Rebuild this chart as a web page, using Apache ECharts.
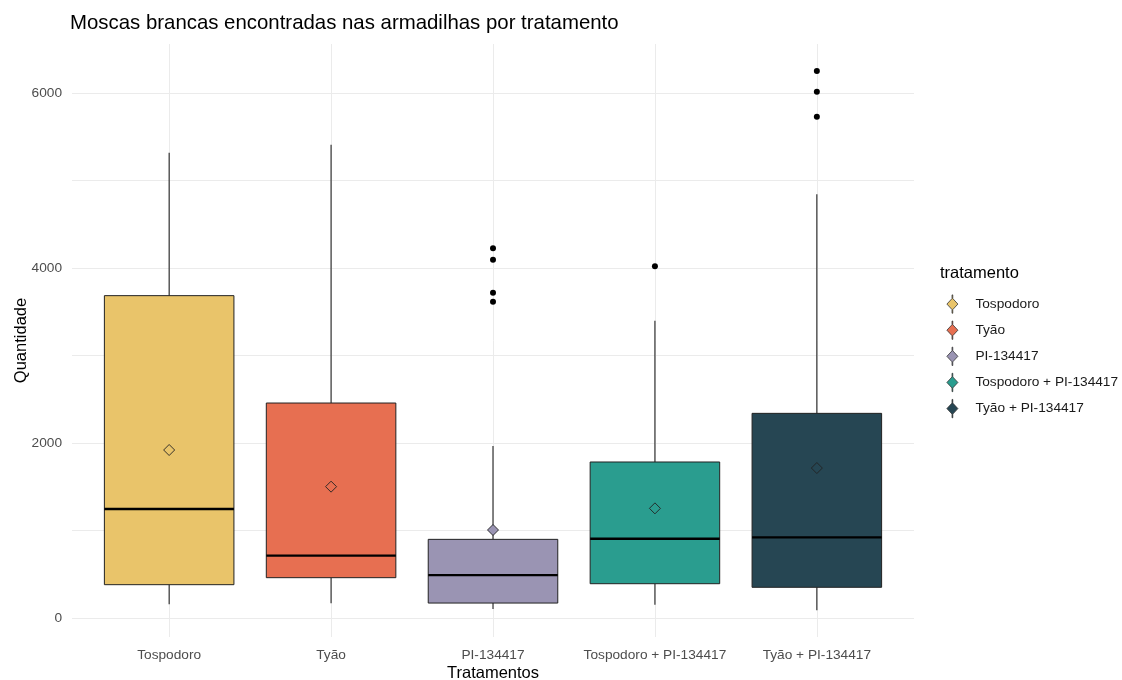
<!DOCTYPE html>
<html>
<head>
<meta charset="utf-8">
<script src="https://cdn.jsdelivr.net/npm/echarts@6/dist/echarts.min.js"></script>
<style>
  html, body { margin: 0; padding: 0; background: #ffffff; }
  #chart { width: 1122px; height: 680px; }
</style>
</head>
<body>
<div id="chart"></div>
<script>
// Treatments and their box-plot summaries (counts of whiteflies per trap)
const categories = ['Tospodoro', 'Tyão', 'PI-134417', 'Tospodoro + PI-134417', 'Tyão + PI-134417'];
const colors = ['#E9C46A', '#E76F51', '#9A94B3', '#2A9D8F', '#264653'];
const whiskerLow = [156, 168, 103, 152, 88];
const q1 = [381, 461, 171, 392, 351];
const median = [1246, 712, 491, 906, 922];
const q3 = [3684, 2457, 899, 1783, 2339];
const whiskerHigh = [5318, 5410, 1966, 3398, 4842];
const means = [1920, 1501, 1006, 1253, 1714];
const outliers = [[], [], [4225, 4095, 3718, 3615], [4019], [6251, 6015, 5729]];
const yLabelValues = [0, 2000, 4000, 6000];
const yGridValues = [0, 1000, 2000, 3000, 4000, 5000, 6000];

const FONT = '"Liberation Sans", Arial, sans-serif';

const boxData = categories.map((c, i) => [i, whiskerLow[i], q1[i], median[i], q3[i], whiskerHigh[i]]);
const outlierData = [];
outliers.forEach((vals, i) => vals.forEach(v => outlierData.push([i, v])));

// Box with single-line whiskers and a heavier median bar
function renderBox(params, api) {
  const x = api.value(0);
  const pLow = api.coord([x, api.value(1)]);
  const pQ1 = api.coord([x, api.value(2)]);
  const pMed = api.coord([x, api.value(3)]);
  const pQ3 = api.coord([x, api.value(4)]);
  const pHigh = api.coord([x, api.value(5)]);
  const half = api.size([0.8, 0])[0] / 2;
  const cx = pQ1[0];
  const fill = colors[params.dataIndex];
  return {
    type: 'group',
    children: [
      { type: 'line', shape: { x1: cx, y1: pQ3[1], x2: cx, y2: pHigh[1] }, style: { stroke: '#222', lineWidth: 1.1 } },
      { type: 'line', shape: { x1: cx, y1: pLow[1], x2: cx, y2: pQ1[1] }, style: { stroke: '#222', lineWidth: 1.1 } },
      { type: 'rect', shape: { x: cx - half, y: pQ3[1], width: 2 * half, height: pQ1[1] - pQ3[1] },
        style: { fill: fill, stroke: '#222', lineWidth: 1 } },
      { type: 'line', shape: { x1: cx - half, y1: pMed[1], x2: cx + half, y2: pMed[1] }, style: { stroke: '#000', lineWidth: 2.3 } }
    ]
  };
}

// Legend glyph: vertical whisker through a diamond
const legendIcon = 'path://M9.6,0 L10.4,0 L10.4,4 L16,10 L10.4,16 L10.4,20 L9.6,20 L9.6,16 L4,10 L9.6,4 Z';

const meanSeries = categories.map((name, i) => ({
  name: name,
  type: 'scatter',
  z: 4,
  symbol: 'diamond',
  symbolSize: [11, 11],
  itemStyle: { color: colors[i], borderColor: '#222', borderWidth: 0.9, opacity: 1 },
  emphasis: { disabled: true },
  data: [[i, means[i]]]
}));

const chart = echarts.init(document.getElementById('chart'), null, { renderer: 'canvas' });
chart.setOption({
  animation: false,
  backgroundColor: '#ffffff',
  textStyle: { fontFamily: FONT },
  title: [
    { text: 'Moscas brancas encontradas nas armadilhas por tratamento', left: 70, top: 13, padding: 0,
      textStyle: { fontFamily: FONT, fontSize: 20.4, fontWeight: 'normal', color: '#000' } },
    { text: 'tratamento', left: 940, top: 264.5, padding: 0,
      textStyle: { fontFamily: FONT, fontSize: 16.5, fontWeight: 'normal', color: '#000' } }
  ],
  legend: {
    orient: 'vertical',
    left: 946.5,
    top: 294.5,
    padding: 0,
    itemWidth: 11,
    itemHeight: 19,
    itemGap: 7,
    icon: legendIcon,
    itemStyle: { borderColor: '#333', borderWidth: 0.8 },
    data: categories,
    formatter: name => '{g|}' + name,
    textStyle: { fontFamily: FONT, fontSize: 13.7, color: '#1a1a1a', rich: { g: { width: 12.5 } } }
  },
  grid: { left: 72, right: 208, top: 44, bottom: 43, outerBoundsMode: 'none', containLabel: false },
  xAxis: {
    type: 'value',
    min: -0.6,
    max: 4.6,
    name: 'Tratamentos',
    nameLocation: 'middle',
    nameGap: 28,
    nameMoveOverlap: false,
    nameTextStyle: { fontFamily: FONT, fontSize: 16.5, color: '#000' },
    axisLine: { show: false },
    axisTick: { show: false, customValues: [0, 1, 2, 3, 4] },
    axisLabel: {
      customValues: [0, 1, 2, 3, 4],
      formatter: v => categories[Math.round(v)],
      margin: 11,
      fontFamily: FONT, fontSize: 13.7, color: '#4D4D4D'
    },
    splitLine: { show: true, lineStyle: { color: '#EBEBEB', width: 1 } }
  },
  yAxis: {
    type: 'value',
    min: -217,
    max: 6560,
    name: 'Quantidade',
    nameLocation: 'middle',
    nameGap: 42,
    nameMoveOverlap: false,
    nameTextStyle: { fontFamily: FONT, fontSize: 16.5, color: '#000' },
    axisLine: { show: false },
    axisTick: { show: false, customValues: yGridValues },
    axisLabel: {
      customValues: yLabelValues,
      formatter: v => String(v),
      margin: 10,
      fontFamily: FONT, fontSize: 13.7, color: '#4D4D4D'
    },
    splitLine: { show: true, lineStyle: { color: '#EBEBEB', width: 1 } }
  },
  series: [
    {
      name: 'caixas',
      type: 'custom',
      z: 2,
      renderItem: renderBox,
      encode: { x: 0, y: [1, 2, 3, 4, 5] },
      data: boxData,
      silent: true
    },
    ...meanSeries,
    {
      name: 'outliers',
      type: 'scatter',
      z: 5,
      symbol: 'circle',
      symbolSize: 6,
      itemStyle: { color: '#000', opacity: 1 },
      data: outlierData,
      silent: true
    }
  ]
});
</script>
</body>
</html>
